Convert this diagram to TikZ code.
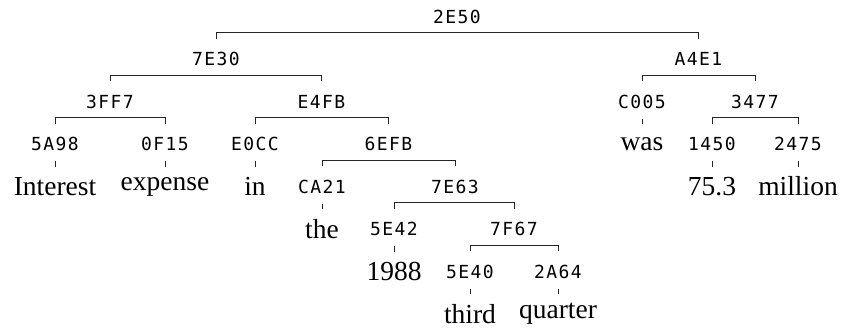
\documentclass[tikz,border=0pt]{standalone}
\usepackage{fontspec}
\setmainfont{Liberation Serif}
\newfontfamily\hexfont[LetterSpace=8]{DejaVu Sans Mono}
\begin{document}
\begin{tikzpicture}[x=1pt,y=-1pt,
  hex/.style={font=\hexfont\fontsize{18}{20}\selectfont, inner sep=0pt,
              text height=13pt, text depth=0pt},
  word/.style={font=\fontsize{27.5}{30}\selectfont, inner sep=0pt},
  link/.style={line width=1pt, draw=black!85},
]
\useasboundingbox (0,0) rectangle (843,335);

% internal and pre-terminal labels
\node[hex] (n2E50) at (457,17)    {2E50};
\node[hex] (n7E30) at (216,59)    {7E30};
\node[hex] (nA4E1) at (698.5,59)  {A4E1};
\node[hex] (n3FF7) at (110,101.5) {3FF7};
\node[hex] (nE4FB) at (321.5,101.5) {E4FB};
\node[hex] (nC005) at (642,101.5) {C005};
\node[hex] (n3477) at (755,101.5) {3477};
\node[hex] (n5A98) at (55,144)    {5A98};
\node[hex] (n0F15) at (165,144)   {0F15};
\node[hex] (nE0CC) at (255,144)   {E0CC};
\node[hex] (n6EFB) at (388.5,144) {6EFB};
\node[hex] (n1450) at (712,144)   {1450};
\node[hex] (n2475) at (798,144)   {2475};
\node[hex] (nCA21) at (322,186.5) {CA21};
\node[hex] (n7E63) at (455,186.5) {7E63};
\node[hex] (n5E42) at (394,229)   {5E42};
\node[hex] (n7F67) at (514,229)   {7F67};
\node[hex] (n5E40) at (470,271.5) {5E40};
\node[hex] (n2A64) at (558,271.5) {2A64};

% words
\node[word] (wInterest) at (55,186.5)  {Interest};
\node[word] (wexpense)  at (165,186.5) {expense};
\node[word] (win)       at (255,186.5) {in};
\node[word] (wwas)      at (642,144)   {was};
\node[word] (w753)      at (712,186.5) {75.3};
\node[word] (wmillion)  at (798,186.5) {million};
\node[word] (wthe)      at (322,229)   {the};
\node[word] (w1988)     at (394,271.5) {1988};
\node[word] (wthird)    at (470,314)   {third};
\node[word] (wquarter)  at (558,314)   {quarter};

% brackets joining each pair of children
\foreach \l/\r in {n7E30/nA4E1, n3FF7/nE4FB, nC005/n3477, n5A98/n0F15,
                   nE0CC/n6EFB, n1450/n2475, nCA21/n7E63, n5E42/n7F67,
                   n5E40/n2A64}
  \draw[link] ([yshift=13.5pt]\l.north) -- ++(0,6pt) -| ([yshift=13.5pt]\r.north);

% short ticks from a label down to its word
\foreach \h/\w in {n5A98/wInterest, n0F15/wexpense, nE0CC/win, nC005/wwas,
                   n1450/w753, n2475/wmillion, nCA21/wthe, n5E42/w1988,
                   n5E40/wthird, n2A64/wquarter}
  \draw[link] ([yshift=-10.5pt]\h.south) -- ([yshift=-16pt]\h.south);
\end{tikzpicture}
\end{document}
